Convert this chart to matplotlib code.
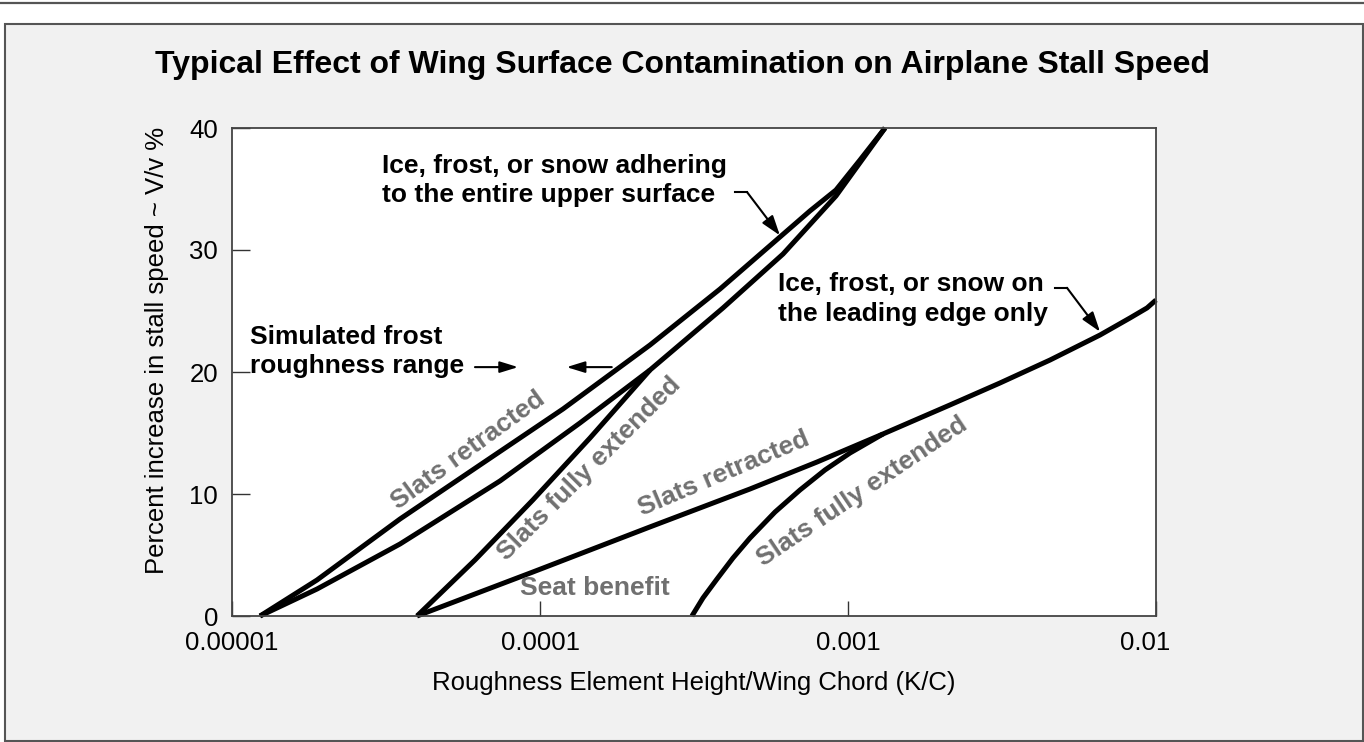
import numpy as np
import matplotlib
matplotlib.use('Agg')
import matplotlib.pyplot as plt
from matplotlib.patches import Rectangle
from matplotlib.lines import Line2D
from matplotlib.ticker import NullLocator
from matplotlib.transforms import ScaledTranslation

plt.rcParams['font.family'] = ['Liberation Sans', 'DejaVu Sans']

# roughness K/C and stall speed increase (%)
# ice/frost/snow on the entire upper surface
kc_upper_ret = [1.233e-5, 1.888e-5, 3.511e-5, 6.386e-5, 1.188e-4, 2.275e-4, 3.841e-4,
                6.015e-4, 7.523e-4, 9.14e-4, 1.094e-3, 1.319e-3]
dv_upper_ret = [0, 2.95, 7.95, 12.38, 16.97, 22.21, 26.80, 31.07, 33.20, 34.92, 37.38, 40]
kc_upper_ext = [1.233e-5, 1.888e-5, 3.511e-5, 7.417e-5, 1.348e-4, 2.275e-4, 3.928e-4,
                6.152e-4, 9.14e-4, 1.319e-3]
dv_upper_ext = [0, 2.21, 5.90, 11.07, 15.82, 20.16, 25.25, 29.67, 34.43, 40]
# slats fully extended branch joining the upper surface curve
kc_ext_branch = [3.987e-5, 6.15e-5, 9.48e-5, 1.453e-4, 2.275e-4]
dv_ext_branch = [0, 4.59, 9.51, 14.59, 20.16]
# leading edge only
kc_lead_ret = [3.987e-5, 9.49e-5, 2.275e-4, 4.806e-4, 7.93e-4, 1.299e-3, 2.144e-3,
               3.115e-3, 4.527e-3, 6.579e-3, 8.235e-3, 9.35e-3, 1.0e-2]
dv_lead_ret = [0, 3.61, 7.30, 10.41, 12.62, 14.92, 17.30, 19.10, 20.98, 23.03, 24.43, 25.25, 25.90]
kc_lead_ext = [3.114e-4, 3.382e-4, 3.755e-4, 4.231e-4, 4.806e-4, 5.794e-4, 6.985e-4,
               8.42e-4, 1.015e-3, 1.299e-3]
dv_lead_ext = [0, 1.48, 3.03, 4.75, 6.39, 8.52, 10.33, 11.97, 13.36, 14.92]

xtick_vals = [1e-5, 1e-4, 1e-3, 1e-2]
xtick_labels = ['0.00001', '0.0001', '0.001', '0.01']
ytick_vals = [0, 10, 20, 30, 40]

fig = plt.figure(figsize=(13.64, 7.42), dpi=100)
fig.patch.set_facecolor('white')

# gray panel with frame, plus the rule at the very top
panel = Rectangle((5/1364, 1/742), 1358/1364, 717/742, transform=fig.transFigure,
                  facecolor='#f1f1f1', edgecolor='#555555', lw=1.5, zorder=-2)
fig.add_artist(panel)
fig.add_artist(Line2D([0, 1], [1 - 3/742, 1 - 3/742], transform=fig.transFigure,
                      color='#555555', lw=1.6, zorder=-1))

ax = fig.add_axes([232/1364, 126/742, 924/1364, 488/742])
ax.set_facecolor('white')
ax.set_xscale('log')
ax.set_xlim(1e-5, 1e-2)
ax.set_ylim(0, 40)

curve_kw = dict(color='black', lw=3.6, solid_capstyle='butt', solid_joinstyle='round', clip_on=False)
ax.plot(kc_upper_ret, dv_upper_ret, **curve_kw)
ax.plot(kc_upper_ext, dv_upper_ext, **curve_kw)
ax.plot(kc_ext_branch, dv_ext_branch, **curve_kw)
ax.plot(kc_lead_ret, dv_lead_ret, **curve_kw)
ax.plot(kc_lead_ext, dv_lead_ext, **curve_kw)

ax.set_xticks(xtick_vals)
ax.set_xticklabels(xtick_labels)
ax.xaxis.set_minor_locator(NullLocator())
ax.set_yticks(ytick_vals)
ax.tick_params(axis='x', direction='in', length=11, width=1, color='#333333',
               labelsize=18.5, pad=11)
ax.tick_params(axis='y', direction='in', length=13, width=1, color='#333333',
               labelsize=18.5, pad=10)
for s in ax.spines.values():
    s.set_color('#444444')
    s.set_linewidth(1.3)
# last x label sits a little left of its tick in the original
lab = ax.get_xticklabels()[-1]
lab.set_transform(lab.get_transform() + ScaledTranslation(-0.11, 0, fig.dpi_scale_trans))

# titles and axis labels
fig.text(682/1364, 1 - 73/742, 'Typical Effect of Wing Surface Contamination on Airplane Stall Speed',
         ha='center', va='baseline', fontsize=23, fontweight='bold')
fig.text(694/1364, 1 - 690/742, 'Roughness Element Height/Wing Chord (K/C)',
         ha='center', va='baseline', fontsize=18.5)
fig.text(157/1364, 1 - 350/742, 'Percent increase in stall speed ~ V/v %',
         ha='center', va='center', rotation=90, fontsize=18.5)

bold = dict(fontsize=19, fontweight='bold', color='black')
ax.text(3.07e-5, 36.3, 'Ice, frost, or snow adhering', va='baseline', **bold)
ax.text(3.07e-5, 33.9, 'to the entire upper surface', va='baseline', **bold)
ax.text(5.93e-4, 26.6, 'Ice, frost, or snow on', va='baseline', **bold)
ax.text(5.93e-4, 24.2, 'the leading edge only', va='baseline', **bold)
ax.text(1.143e-5, 22.3, 'Simulated frost', va='baseline', **bold)
ax.text(1.143e-5, 19.9, 'roughness range', va='baseline', **bold)

# leader arrows
head = '-|>,head_length=0.6,head_width=0.2'
ax.plot([4.30e-4, 4.70e-4], [34.75, 34.75], color='black', lw=1.5)
ax.annotate('', xy=(6.01e-4, 31.2), xytext=(4.70e-4, 34.75),
            arrowprops=dict(arrowstyle=head, color='black', lw=1.5,
                            shrinkA=0, shrinkB=0, mutation_scale=20))
ax.plot([4.70e-3, 5.14e-3], [26.9, 26.9], color='black', lw=1.5)
ax.annotate('', xy=(6.58e-3, 23.3), xytext=(5.14e-3, 26.9),
            arrowprops=dict(arrowstyle=head, color='black', lw=1.5,
                            shrinkA=0, shrinkB=0, mutation_scale=20))
head2 = '-|>,head_length=0.55,head_width=0.17'
ax.annotate('', xy=(8.49e-5, 20.4), xytext=(6.15e-5, 20.4),
            arrowprops=dict(arrowstyle=head2, color='black', lw=1.5,
                            shrinkA=0, shrinkB=0, mutation_scale=20))
ax.annotate('', xy=(1.22e-4, 20.4), xytext=(1.71e-4, 20.4),
            arrowprops=dict(arrowstyle=head2, color='black', lw=1.5,
                            shrinkA=0, shrinkB=0, mutation_scale=20))

# gray curve labels
gray = dict(fontsize=19, fontweight='bold', color='#707070', ha='center', va='center',
            rotation_mode='anchor')
ax.text(5.83e-5, 13.6, 'Slats retracted', rotation=36, **gray)
ax.text(1.44e-4, 12.1, 'Slats fully extended', rotation=45, **gray)
ax.text(3.95e-4, 11.7, 'Slats retracted', rotation=23, **gray)
ax.text(1.51e-4, 2.3, 'Seat benefit', rotation=0, **gray)
ax.text(1.11e-3, 10.2, 'Slats fully extended', rotation=34, **gray)

fig.savefig('out.png', dpi=100)
